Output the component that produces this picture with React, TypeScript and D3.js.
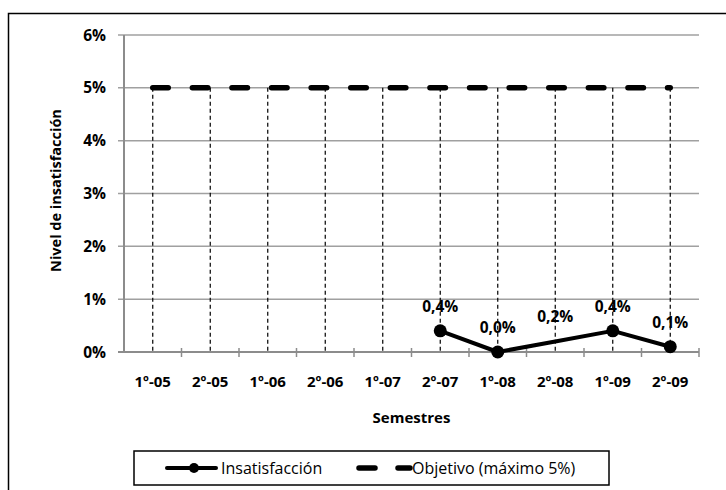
import React, { useEffect, useRef } from 'react';
import * as d3 from 'd3';

const semestres = ['1º-05', '2º-05', '1º-06', '2º-06', '1º-07', '2º-07', '1º-08', '2º-08', '1º-09', '2º-09'];
// Nivel de insatisfacción (%), sin datos antes de 2º-07
const insatisfaccion: (number | null)[] = [null, null, null, null, null, 0.4, 0.0, 0.2, 0.4, 0.1];
const objetivo = [5, 5, 5, 5, 5, 5, 5, 5, 5, 5];
const sinMarcador = ['2º-08'];
const yTicks = [0, 1, 2, 3, 4, 5, 6];

const FONT = '"Open Sans", "Noto Sans", sans-serif';

const App: React.FC = () => {
    const svgRef = useRef<SVGSVGElement>(null);
    const width = 726;
    const height = 490;

    useEffect(() => {
        if (!svgRef.current) return;
        const svg = d3.select(svgRef.current);
        svg.selectAll('*').remove();

        const plot = { left: 124, right: 699, top: 35, bottom: 352 };

        // outer chart frame (runs off the right and bottom of the picture)
        svg.append('rect')
            .attr('x', 8.5).attr('y', 13.5)
            .attr('width', width + 20).attr('height', height + 20)
            .attr('fill', 'white').attr('stroke', '#000').attr('stroke-width', 1.5);

        const x = d3.scaleBand<string>().domain(semestres).range([plot.left, plot.right]).padding(0);
        const cx = (s: string) => (x(s) || 0) + x.bandwidth() / 2;
        const y = d3.scaleLinear().domain([0, 6]).range([plot.bottom, plot.top]);

        const g = svg.append('g');
        const bold = (sel: any, size = 14) => sel
            .style('font-family', FONT).style('font-weight', 'bold').style('font-size', `${size}px`)
            .attr('fill', '#000');

        // horizontal gridlines + y ticks
        g.append('g').selectAll('line')
            .data(yTicks.filter(t => t > 0))
            .join('line')
            .attr('x1', plot.left - 6).attr('x2', plot.right)
            .attr('y1', d => y(d)).attr('y2', d => y(d))
            .attr('stroke', '#a0a0a0').attr('stroke-width', 1.5);

        bold(g.append('g').selectAll('text')
            .data(yTicks)
            .join('text')
            .attr('x', 106).attr('y', d => y(d) + 5.5)
            .attr('text-anchor', 'end'), 15.5)
            .text(d => `${d}%`);

        // drop lines from objective down to the axis
        g.append('g').selectAll('line')
            .data(semestres)
            .join('line')
            .attr('x1', d => cx(d)).attr('x2', d => cx(d))
            .attr('y1', (d, i) => y(objetivo[i])).attr('y2', y(0))
            .attr('stroke', '#000').attr('stroke-width', 1.2)
            .attr('stroke-dasharray', '4,3');

        // axes
        g.append('line')
            .attr('x1', plot.left).attr('x2', plot.left)
            .attr('y1', plot.top).attr('y2', plot.bottom)
            .attr('stroke', '#8c8c8c').attr('stroke-width', 2);
        g.append('line')
            .attr('x1', plot.left - 6).attr('x2', plot.right)
            .attr('y1', plot.bottom).attr('y2', plot.bottom)
            .attr('stroke', '#8c8c8c').attr('stroke-width', 2);
        g.append('g').selectAll('line')
            .data(semestres)
            .join('line')
            .attr('x1', d => (x(d) || 0) + x.bandwidth()).attr('x2', d => (x(d) || 0) + x.bandwidth())
            .attr('y1', plot.bottom - 4).attr('y2', plot.bottom + 5)
            .attr('stroke', '#8c8c8c').attr('stroke-width', 1.5);

        // x tick labels
        bold(g.append('g').selectAll('text')
            .data(semestres)
            .join('text')
            .attr('x', d => cx(d)).attr('y', 387)
            .attr('text-anchor', 'middle'), 15)
            .text(d => d);

        // objective line
        const lineObj = d3.line<number>()
            .x((d, i) => cx(semestres[i]))
            .y(d => y(d));
        g.append('path')
            .datum(objetivo)
            .attr('d', lineObj)
            .attr('fill', 'none').attr('stroke', '#000').attr('stroke-width', 5.5)
            .attr('stroke-linecap', 'round')
            .attr('stroke-dasharray', '15.5,24.1');

        // insatisfacción line
        const puntos = semestres
            .map((s, i) => ({ s, v: insatisfaccion[i] }))
            .filter(d => d.v !== null) as { s: string; v: number }[];
        const lineIns = d3.line<{ s: string; v: number }>()
            .x(d => cx(d.s))
            .y(d => y(d.v));
        g.append('path')
            .datum(puntos)
            .attr('d', lineIns)
            .attr('fill', 'none').attr('stroke', '#000').attr('stroke-width', 4)
            .attr('stroke-linejoin', 'round');
        g.append('g').selectAll('circle')
            .data(puntos.filter(d => !sinMarcador.includes(d.s)))
            .join('circle')
            .attr('cx', d => cx(d.s)).attr('cy', d => y(d.v))
            .attr('r', 6.5).attr('fill', '#000');
        bold(g.append('g').selectAll('text')
            .data(puntos)
            .join('text')
            .attr('x', d => cx(d.s)).attr('y', d => y(d.v) - 19)
            .attr('text-anchor', 'middle'), 15.5)
            .text(d => `${d.v.toFixed(1).replace('.', ',')}%`);

        // axis titles
        bold(svg.append('text')
            .attr('transform', `translate(61,${(plot.top + plot.bottom) / 2 - 3}) rotate(-90)`)
            .attr('text-anchor', 'middle'), 14.5)
            .text('Nivel de insatisfacción');
        bold(svg.append('text')
            .attr('x', (plot.left + plot.right) / 2).attr('y', 423)
            .attr('text-anchor', 'middle'), 15)
            .text('Semestres');

        // legend
        const lg = svg.append('g');
        lg.append('rect')
            .attr('x', 134).attr('y', 451).attr('width', 475).attr('height', 34)
            .attr('fill', 'white').attr('stroke', '#000').attr('stroke-width', 1.5);
        const ly = 468;
        lg.append('line')
            .attr('x1', 167).attr('x2', 216).attr('y1', ly).attr('y2', ly)
            .attr('stroke', '#000').attr('stroke-width', 4).attr('stroke-linecap', 'round');
        lg.append('circle').attr('cx', 194).attr('cy', ly).attr('r', 5).attr('fill', '#000');
        lg.append('text')
            .attr('x', 221).attr('y', ly + 6)
            .style('font-family', FONT).style('font-size', '16px')
            .text('Insatisfacción');
        lg.append('line')
            .attr('x1', 359).attr('x2', 410).attr('y1', ly).attr('y2', ly)
            .attr('stroke', '#000').attr('stroke-width', 5.5).attr('stroke-linecap', 'round')
            .attr('stroke-dasharray', '16,23');
        lg.append('text')
            .attr('x', 412).attr('y', ly + 6)
            .style('font-family', FONT).style('font-size', '16px')
            .text('Objetivo (máximo 5%)');
    }, []);

    return (
        <svg
            ref={svgRef}
            width={width}
            height={height}
            style={{ position: 'fixed', left: 0, top: 0, background: 'white' }}
        />
    );
};

export default App;
